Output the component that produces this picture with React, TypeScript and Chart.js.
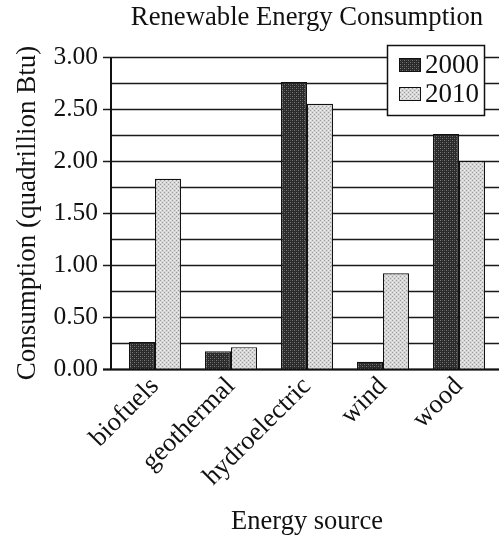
import React, { useEffect, useRef } from "react";
import { Chart, registerables } from "chart.js";

Chart.register(...registerables);

const chartTitle = "Renewable Energy Consumption";
const categories = ["biofuels", "geothermal", "hydroelectric", "wind", "wood"];
const seriesLabels = ["2000", "2010"];
const values2000 = [0.26, 0.17, 2.76, 0.07, 2.26];
const values2010 = [1.83, 0.21, 2.55, 0.92, 2.0];
const yMin = 0;
const yMax = 3;
const yStep = 0.25;
const yTitle = "Consumption (quadrillion Btu)";
const xTitle = "Energy source";

const FONT = "'Liberation Serif', 'Times New Roman', serif";

function makePattern(base: string, dot: string, dot2: string) {
  const c = document.createElement("canvas");
  c.width = 4;
  c.height = 4;
  const g = c.getContext("2d")!;
  g.fillStyle = base;
  g.fillRect(0, 0, 4, 4);
  g.fillStyle = dot;
  g.fillRect(0, 0, 1, 1);
  g.fillRect(2, 2, 1, 1);
  g.fillStyle = dot2;
  g.fillRect(2, 0, 1, 1);
  g.fillRect(0, 2, 1, 1);
  return g.createPattern(c, "repeat")!;
}

const isMajor = (v: number) => Math.abs(v * 2 - Math.round(v * 2)) < 1e-6;

const customPlugin = {
  id: "customAxesLegend",
  beforeDatasetsDraw(chart: any) {
    const { ctx, chartArea, scales } = chart;
    const y = scales.y;
    const axisX = chartArea.left - 6;
    ctx.save();
    ctx.strokeStyle = "#1a1a1a";
    ctx.lineWidth = 1.6;
    y.ticks.forEach((t: any) => {
      const py = Math.round(y.getPixelForValue(t.value)) + 0.5;
      ctx.beginPath();
      ctx.moveTo(isMajor(t.value) ? axisX - 8 : axisX, py);
      ctx.lineTo(chart.width, py);
      ctx.stroke();
    });
    ctx.restore();
  },
  afterDatasetsDraw(chart: any) {
    const { ctx, chartArea, scales } = chart;
    const y = scales.y;
    const axisX = chartArea.left - 6;
    const top = Math.round(y.getPixelForValue(yMax)) + 0.5;
    const bottom = Math.round(y.getPixelForValue(yMin)) + 0.5;
    ctx.save();
    ctx.strokeStyle = "#111";
    ctx.lineWidth = 2;
    ctx.beginPath();
    ctx.moveTo(axisX, top);
    ctx.lineTo(axisX, bottom);
    ctx.stroke();
    ctx.beginPath();
    ctx.moveTo(axisX - 8, bottom);
    ctx.lineTo(chart.width, bottom);
    ctx.stroke();
    ctx.restore();
  },
  afterDraw(chart: any) {
    const { ctx } = chart;
    const bx = 387;
    const by = 45;
    const bw = 97;
    const bh = 70;
    ctx.save();
    ctx.fillStyle = "#fff";
    ctx.fillRect(bx, by, bw, bh);
    ctx.strokeStyle = "#111";
    ctx.lineWidth = 1.5;
    ctx.strokeRect(bx + 0.5, by + 0.5, bw, bh);
    ctx.font = `27px ${FONT}`;
    ctx.textBaseline = "middle";
    ctx.textAlign = "left";
    chart.data.datasets.forEach((ds: any, i: number) => {
      const cy = by + 20 + i * 29;
      ctx.fillStyle = ds.backgroundColor;
      ctx.fillRect(bx + 12, cy - 7, 22, 14);
      ctx.lineWidth = 1;
      ctx.strokeStyle = "#111";
      ctx.strokeRect(bx + 12.5, cy - 6.5, 21, 13);
      ctx.fillStyle = "#111";
      ctx.fillText(ds.label, bx + 38, cy + 1);
    });
    ctx.restore();
  },
};

export default function App() {
  const ref = useRef<HTMLCanvasElement | null>(null);

  useEffect(() => {
    document.body.style.margin = "0";
    const canvas = ref.current!;
    const darkPat = makePattern("#2a2a2a", "#7a7a7a", "#4a4a4a");
    const lightPat = makePattern("#d6d6d6", "#9a9a9a", "#f0f0f0");
    const chart = new Chart(canvas, {
      type: "bar",
      data: {
        labels: categories,
        datasets: [
          {
            label: seriesLabels[0],
            data: values2000,
            backgroundColor: darkPat as any,
            borderColor: "#111",
            borderWidth: 1.2,
            categoryPercentage: 0.684,
            barPercentage: 1,
          },
          {
            label: seriesLabels[1],
            data: values2010,
            backgroundColor: lightPat as any,
            borderColor: "#111",
            borderWidth: 1.2,
            categoryPercentage: 0.684,
            barPercentage: 1,
          },
        ],
      },
      options: {
        animation: false,
        responsive: true,
        maintainAspectRatio: false,
        layout: { padding: { top: 0, left: 0, right: 2, bottom: 0 } },
        plugins: {
          legend: { display: false },
          tooltip: { enabled: false },
          title: {
            display: true,
            text: chartTitle,
            fullSize: false,
            color: "#111",
            font: { family: FONT, size: 26.7, weight: "normal" },
            padding: { top: 2, bottom: 23 },
          },
        },
        scales: {
          x: {
            grid: { display: false },
            border: { display: false },
            ticks: {
              color: "#111",
              font: { family: FONT, size: 26.5 },
              minRotation: 45,
              maxRotation: 45,
              autoSkip: false,
              padding: -6,
            },
            title: {
              display: true,
              text: xTitle,
              color: "#111",
              font: { family: FONT, size: 26.5 },
              padding: { top: 0, bottom: 2 },
            },
            afterFit: (s: any) => {
              s.height = 171;
            },
          },
          y: {
            min: yMin,
            max: yMax,
            grid: { display: false },
            border: { display: false },
            ticks: {
              stepSize: yStep,
              autoSkip: false,
              color: "#111",
              padding: 11,
              font: { family: FONT, size: 25.5 },
              callback: (v: any) => (isMajor(Number(v)) ? Number(v).toFixed(2) : ""),
            },
            title: {
              display: true,
              text: yTitle,
              color: "#111",
              font: { family: FONT, size: 27 },
              padding: { top: 12, bottom: 0 },
            },
            afterFit: (s: any) => {
              s.width = 117;
            },
          },
        },
      },
      plugins: [customPlugin],
    });
    return () => chart.destroy();
  }, []);

  return (
    <div style={{ position: "relative", width: 499, height: 540 }}>
      <canvas ref={ref} />
    </div>
  );
}
